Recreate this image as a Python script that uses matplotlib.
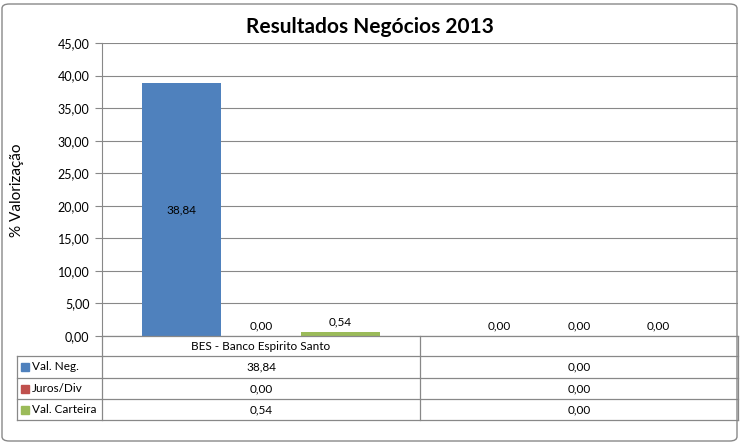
import matplotlib
matplotlib.use("Agg")
import matplotlib.pyplot as plt
from matplotlib.patches import FancyBboxPatch, Rectangle
from matplotlib.lines import Line2D
import numpy as np

plt.rcParams["font.family"] = "Lato"

categories = ["BES - Banco Espirito Santo", ""]
series_names = ["Val. Neg.", "Juros/Div", "Val. Carteira"]
val_neg = [38.84, 0.00]
juros_div = [0.00, 0.00]
val_carteira = [0.54, 0.00]
colors = ["#4F81BD", "#C0504D", "#9BBB59"]
series = [val_neg, juros_div, val_carteira]

W, H = 740, 443
fig = plt.figure(figsize=(W/100, H/100), dpi=100)
border = FancyBboxPatch((2/W, 2/H), 735/W, 437/H, boxstyle="round,pad=0,rounding_size=0.01",
                        transform=fig.transFigure, fc="none", ec="#888888", lw=1, zorder=10)
fig.add_artist(border)

def fx(px): return px / W
def fy(py): return 1 - py / H

ax = fig.add_axes([fx(102), fy(336), fx(738) - fx(102), fy(43) - fy(336)])
x = np.arange(len(categories))
bw = 0.25
for i, (s, c) in enumerate(zip(series, colors)):
    pos = x + (i - 1) * bw
    ax.bar(pos, s, width=bw, color=c)
    for p, v in zip(pos, s):
        yl = v / 2 if v > 5 else v + 1.6
        ax.text(p, yl, f"{v:.2f}".replace(".", ","), ha="center", va="center", fontsize=8.5)
ax.set_xlim(-0.5, 1.5)
ax.set_ylim(0, 45)
ax.set_yticks(np.arange(0, 46, 5))
ax.set_yticklabels([f"{t:.2f}".replace(".", ",") for t in np.arange(0, 46, 5)], fontsize=9)
ax.yaxis.grid(True, color="#888888", lw=0.8)
ax.set_axisbelow(True)
ax.tick_params(axis="y", length=5, color="#888888", pad=4)
ax.set_xticks([])
for k in ["top", "right", "bottom"]:
    ax.spines[k].set_visible(False)
ax.spines["left"].set_color("#888888")

fig.text(fx(370), fy(27), "Resultados Negócios 2013", ha="center", va="center", fontsize=15, fontweight="bold")
fig.text(fx(17), fy(190), "% Valorização", rotation=90, ha="center", va="center", fontsize=11)

# data table
lc = "#888888"
def hl(y, x0, x1): fig.add_artist(Line2D([fx(x0), fx(x1)], [fy(y), fy(y)], color=lc, lw=0.9))
def vl(xp, y0, y1): fig.add_artist(Line2D([fx(xp), fx(xp)], [fy(y0), fy(y1)], color=lc, lw=0.9))
hl(336, 102, 738)
rows = [356, 378, 399, 420]
for r in rows:
    hl(r, 17, 738)
vl(17, 356, 420); vl(102, 336, 420); vl(420, 336, 420); vl(738, 336, 420)
fig.text(fx(261), fy(347), categories[0], ha="center", va="center", fontsize=8.5)
for i, (n, s, c) in enumerate(zip(series_names, series, colors)):
    yc = (rows[i] + rows[i+1]) / 2
    fig.add_artist(Rectangle((fx(21), fy(yc + 4)), 8/W, 8/H, color=c, transform=fig.transFigure, zorder=5))
    fig.text(fx(32), fy(yc), n, ha="left", va="center", fontsize=8.5)
    for j, v in enumerate(s):
        fig.text(fx(261 + j * 318), fy(yc), f"{v:.2f}".replace(".", ","), ha="center", va="center", fontsize=8.5)

fig.savefig("out.png", dpi=100)
